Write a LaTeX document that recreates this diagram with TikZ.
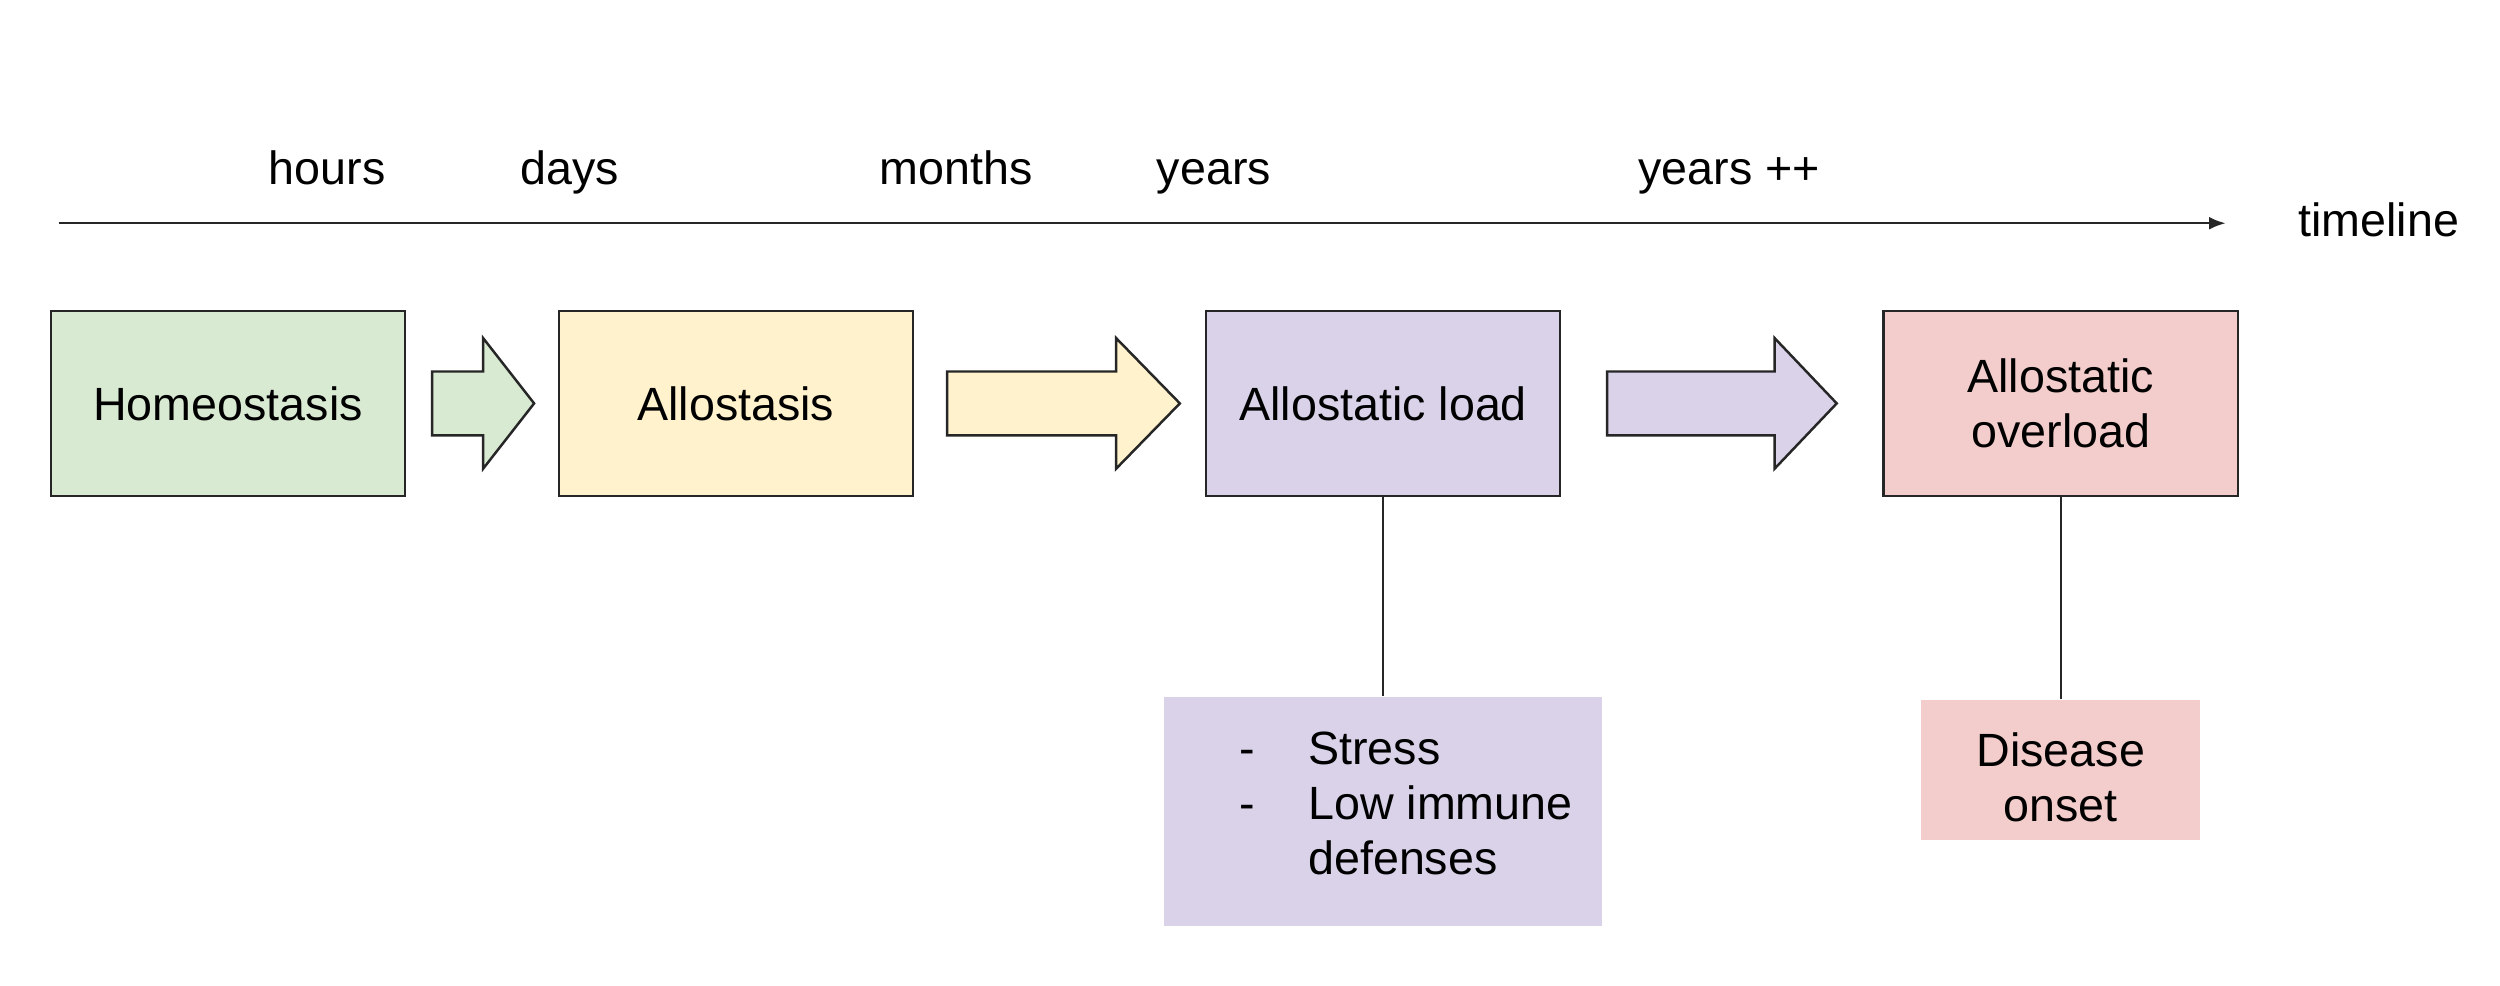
\documentclass[tikz,border=0pt]{standalone}
\usepackage{fontspec}
\setmainfont{Liberation Sans}
\usetikzlibrary{arrows.meta}
\definecolor{cgreen}{HTML}{D9EAD3}
\definecolor{cyellow}{HTML}{FFF2CC}
\definecolor{cpurple}{HTML}{D9D2E9}
\definecolor{cpink}{HTML}{F2CDCB}
\definecolor{linec}{HTML}{262626}
\begin{document}
\begin{tikzpicture}[x=0.0125cm,y=-0.0125cm,
  font=\fontsize{10.4}{12.2}\selectfont,
  box/.style={draw=linec, line width=0.55pt, minimum width=2.775cm, minimum height=1.45cm, inner sep=0pt, align=center},
  blockarrow/.style={draw=linec, line width=0.55pt, line join=miter},
  lbl/.style={anchor=base west, inner sep=0pt},
  notebox/.style={inner sep=0pt},
  conn/.style={draw=linec, line width=0.55pt}]
\useasboundingbox (0,0) rectangle (1568,618);

% timeline
\coordinate (tl0) at (37,140);
\coordinate (tl1) at (1396,140);
\draw[conn, -{Latex[length=0.13cm,width=0.1cm]}] (tl0) -- (tl1);
\node[lbl] (hours) at (168,116) {hours};
\node[lbl] (days) at (326,116) {days};
\node[lbl] (months) at (551,116) {months};
\node[lbl] (years) at (725,116) {years};
\node[lbl] (yearspp) at (1027,116) {years ++};
\node[lbl] (tlabel) at (1441,148.4) {timeline};

% main boxes
\node[box, fill=cgreen] (homeo) at (143,253) {Homeostasis};
\node[box, fill=cyellow] (allo) at (461.5,253) {Allostasis};
\node[box, fill=cpurple] (load) at (867.5,253) {Allostatic load};
\node[box, fill=cpink] (over) at (1292.5,253) {Allostatic\\overload};

% block arrows
\draw[blockarrow, fill=cgreen] (271,233) -- (303,233) -- (303,212) -- (335,253) -- (303,294) -- (303,273) -- (271,273) -- cycle;
\draw[blockarrow, fill=cyellow] (594,233) -- (700,233) -- (700,212) -- (740,253) -- (700,294) -- (700,273) -- (594,273) -- cycle;
\draw[blockarrow, fill=cpurple] (1008,233) -- (1113,233) -- (1113,212) -- (1152,253) -- (1113,294) -- (1113,273) -- (1008,273) -- cycle;

% lower boxes
\node[notebox, fill=cpurple, minimum width=3.4375cm, minimum height=1.8cm] (risk) at (867.5,509) {};
\node[anchor=west, inner sep=0pt, align=left] (risktext) at (777,504)
  {\makebox[0.5375cm][l]{-}Stress\\\makebox[0.5375cm][l]{-}Low immune\\\makebox[0.5375cm][l]{}defenses};
\node[notebox, fill=cpink, minimum width=2.1875cm, minimum height=1.1cm] (disease) at (1292.5,483) {};
\node[inner sep=0pt, align=center] (diseasetext) at (1292.5,487.5) {Disease\\onset};

% connectors
\draw[conn] (load.south) -- (risk.north);
\draw[conn] (over.south) -- (disease.north);
\end{tikzpicture}
\end{document}
